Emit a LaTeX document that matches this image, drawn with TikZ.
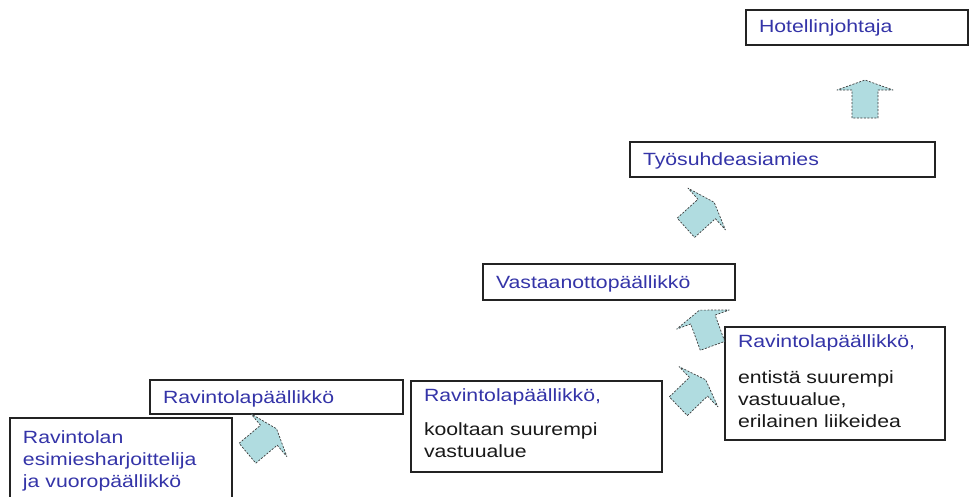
\documentclass[tikz,border=0pt]{standalone}
\usepackage{fontspec}
\setmainfont{Liberation Sans}[FakeStretch=1.2]
\definecolor{titleblue}{RGB}{52,52,168}
\definecolor{desctext}{RGB}{25,25,25}
\definecolor{arrowfill}{RGB}{176,220,224}
\definecolor{arrowline}{RGB}{60,60,60}
\definecolor{boxline}{RGB}{35,35,35}
\begin{document}
\begin{tikzpicture}[x=1pt,y=-1pt,
  box/.style={draw=boxline, line width=1.4pt, anchor=north west, outer sep=0pt,
    inner ysep=0pt, inner xsep=13pt, align=left, text=titleblue,
    font=\fontsize{17.7}{22}\selectfont},
  arrowstyle/.style={fill=arrowfill, draw=arrowline, line width=0.7pt,
    dash pattern=on 2pt off 1.5pt, line join=round},
  blockarrow/.pic={\draw[arrowstyle] (-19,-13) -- (9,-13) -- (9,-28) -- (19,0)
    -- (9,28) -- (9,13) -- (-19,13) -- cycle;}
]
\useasboundingbox (0,0) rectangle (972,496);
\fill[white] (0,0) rectangle (972,496);

% boxes
\node[box, text width=196pt, text height=22pt, text depth=13pt] (hot) at (746,10) {Hotellinjohtaja};
\node[box, text width=279pt, text height=23pt, text depth=12pt] (tyo) at (630,142) {Työsuhdeasiamies};
\node[box, text width=226pt, text height=24pt, text depth=12pt] (vas) at (483,264) {Vastaanottopäällikkö};
\node[box, text width=194pt, text height=20pt, text depth=93pt] (rav3) at (725,327)
  {Ravintolapäällikkö,\\[14pt]\color{desctext}entistä suurempi\\vastuualue,\\erilainen liikeidea};
\node[box, text width=225pt, text height=20pt, text depth=71pt] (rav2) at (411,381)
  {Ravintolapäällikkö,\\[12pt]\color{desctext}kooltaan suurempi\\vastuualue};
\node[box, text width=227pt, text height=23pt, text depth=11pt] (rav1) at (150,380) {Ravintolapäällikkö};
\node[box, text width=196pt, text height=25pt, text depth=59pt] (esi) at (10,418)
  {Ravintolan\\esimiesharjoittelija\\ja vuoropäällikkö};

% block arrows
\pic[rotate=40] (a1) at (262,441) {blockarrow};
\pic[rotate=44] (a2) at (692,393) {blockarrow};
\pic[rotate=110] (a3) at (706,328) {blockarrow};
\pic[rotate=42] (a4) at (700,215) {blockarrow};
\pic[rotate=90] (a5) at (865,99) {blockarrow};
\end{tikzpicture}
\end{document}
